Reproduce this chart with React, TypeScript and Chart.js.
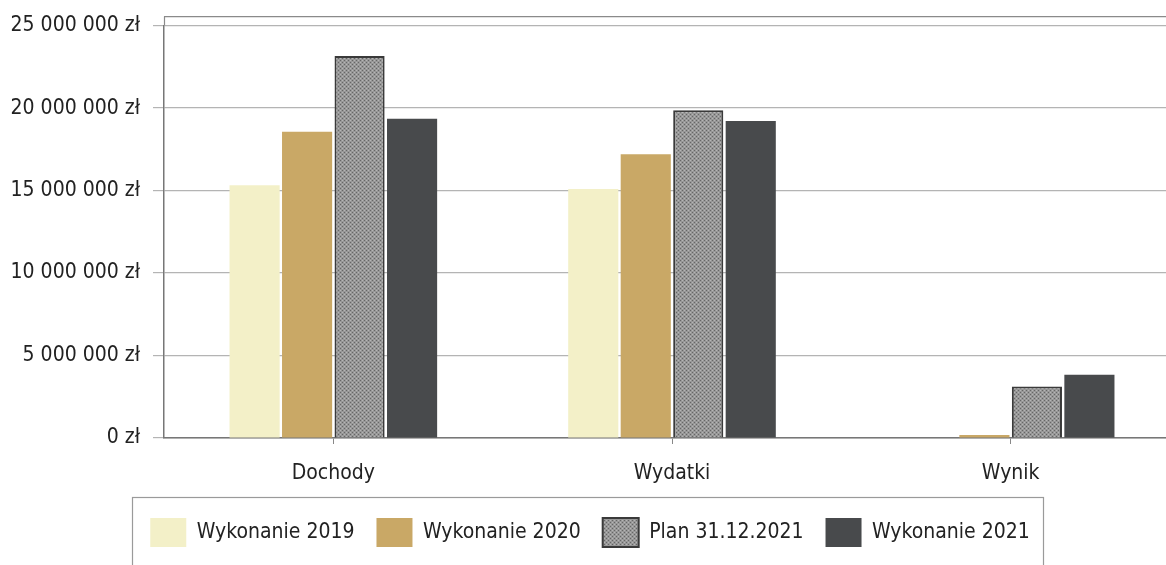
import React, { useEffect, useRef } from "react";
import { Chart, registerables } from "chart.js";

Chart.register(...registerables);

const categories = ["Dochody", "Wydatki", "Wynik"];
const seriesLabels = ["Wykonanie 2019", "Wykonanie 2020", "Plan 31.12.2021", "Wykonanie 2021"];
const wykonanie2019 = [15320000, 15100000, 0];
const wykonanie2020 = [18570000, 17200000, 180000];
const plan2021 = [23150000, 19870000, 3120000];
const wykonanie2021 = [19350000, 19210000, 3830000];
const yTicks = [0, 5000000, 10000000, 15000000, 20000000, 25000000];

const FONT = "'DejaVu Sans Condensed', 'DejaVu Sans', sans-serif";

function fmt(v: number): string {
  return String(Math.round(v)).replace(/\B(?=(\d{3})+(?!\d))/g, " ") + " zł";
}

function makePattern(): CanvasPattern | string {
  const c = document.createElement("canvas");
  c.width = 4;
  c.height = 4;
  const g = c.getContext("2d");
  if (!g) return "#8e8e8e";
  g.fillStyle = "#979797";
  g.fillRect(0, 0, 4, 4);
  g.fillStyle = "#666666";
  g.fillRect(0, 0, 1, 1);
  g.fillRect(2, 2, 1, 1);
  g.fillStyle = "#b5b5b5";
  g.fillRect(2, 0, 1, 1);
  g.fillRect(0, 2, 1, 1);
  const p = g.createPattern(c, "repeat");
  return p || "#8e8e8e";
}

const framePlugin = {
  id: "framePlugin",
  afterDraw(chart: any) {
    const { ctx, chartArea } = chart;
    ctx.save();
    ctx.strokeStyle = "#8a8a8a";
    ctx.lineWidth = 1.2;
    ctx.beginPath();
    ctx.moveTo(chartArea.left, chartArea.top - 9);
    ctx.lineTo(chartArea.right, chartArea.top - 9);
    ctx.moveTo(chartArea.left + 0.5, chartArea.top - 9);
    ctx.lineTo(chartArea.left + 0.5, chartArea.top);
    ctx.stroke();
    const lg = chart.legend;
    if (lg) {
      ctx.strokeStyle = "#9a9a9a";
      ctx.lineWidth = 1.2;
      ctx.strokeRect(132.5, lg.top + 1.5, 911, 100);
    }
    ctx.restore();
  },
};

export default function App() {
  const ref = useRef<HTMLCanvasElement | null>(null);
  useEffect(() => {
    if (!ref.current) return;
    const pattern = makePattern();
    const chart = new Chart(ref.current, {
      type: "bar",
      data: {
        labels: categories,
        datasets: [
          { label: seriesLabels[0], data: wykonanie2019, backgroundColor: "#f3f0c8", borderWidth: 0 },
          { label: seriesLabels[1], data: wykonanie2020, backgroundColor: "#c9a866", borderWidth: 0 },
          { label: seriesLabels[2], data: plan2021, backgroundColor: pattern as any, borderColor: "#3a3a3a", borderWidth: 2 },
          { label: seriesLabels[3], data: wykonanie2021, backgroundColor: "#484a4c", borderWidth: 0 },
        ],
      },
      options: {
        animation: false,
        responsive: false,
        maintainAspectRatio: false,
        categoryPercentage: 0.62,
        barPercentage: 0.955,
        layout: { padding: { top: 21, bottom: 8, left: 0, right: 0 } },
        plugins: {
          tooltip: { enabled: false },
          legend: {
            position: "bottom",
            labels: {
              boxWidth: 36,
              boxHeight: 29,
              padding: 22,
              color: "#222",
              font: { family: FONT, size: 21 },
            },
          },
        },
        scales: {
          x: {
            grid: { display: true, drawOnChartArea: false, offset: false, tickLength: 6, color: "#888" },
            border: { color: "#777", width: 1.5 },
            ticks: { color: "#222", padding: 17, font: { family: FONT, size: 21 } },
            afterFit(scale: any) {
              scale.height = 58;
            },
          },
          y: {
            min: 0,
            max: 25000000,
            afterBuildTicks(scale: any) {
              scale.ticks = yTicks.map((v) => ({ value: v }));
            },
            grid: { color: "#b4b4b4", lineWidth: 1.2, tickLength: 11 },
            border: { color: "#777", width: 1.5 },
            ticks: {
              color: "#222",
              padding: 13,
              font: { family: FONT, size: 21 },
              callback: (v: any) => fmt(Number(v)),
            },
            afterFit(scale: any) {
              scale.width = 164;
            },
          },
        },
      },
      plugins: [framePlugin],
    });
    return () => chart.destroy();
  }, []);
  return (
    <div style={{ position: "fixed", left: 0, top: 0, width: 1166, height: 565, overflow: "hidden", background: "#fff" }}>
      <canvas ref={ref} width={1180} height={565} style={{ display: "block", width: 1180, height: 565 }} />
    </div>
  );
}
